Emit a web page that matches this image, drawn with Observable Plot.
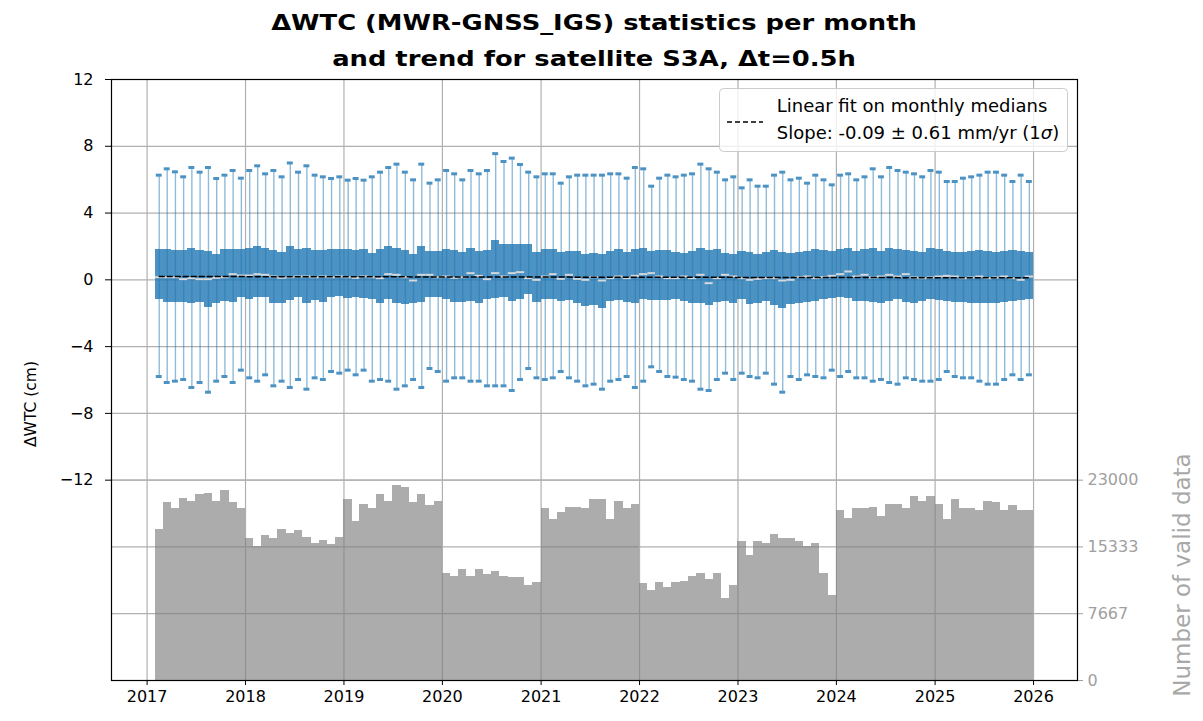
<!DOCTYPE html>
<html><head><meta charset="utf-8">
<script src="https://cdn.jsdelivr.net/npm/d3@7"></script>
<script src="https://cdn.jsdelivr.net/npm/@observablehq/plot@0.6"></script>
<style>
body{margin:0;background:#fff;font-family:"DejaVu Sans",sans-serif;}
#fig{position:relative;width:1203px;height:721px;overflow:hidden;background:#fff;}
#fig svg{position:absolute;left:0;}
</style></head><body><div id="fig"></div>
<script>
// ---- data ----
const firstMonth = "2017-02-01", endMonth = "2026-01-01";
const whiskerHi = [6.27,6.65,6.47,6.17,6.73,6.45,6.73,6.07,6.27,6.55,
 6.09,6.55,6.83,6.35,6.55,6.17,7.0,6.45,6.83,6.27,
 6.17,6.07,6.17,5.97,6.07,5.97,6.17,6.45,6.73,6.93,
 6.45,5.99,6.93,5.79,5.99,6.55,6.35,5.99,6.55,6.35,
 6.55,7.56,7.09,7.29,6.91,6.45,6.17,6.35,6.35,5.79,
 6.17,6.27,6.27,6.27,6.27,6.35,6.35,6.09,6.73,6.65,
 5.61,6.09,6.27,6.17,6.27,6.35,6.93,6.65,6.45,5.99,
 6.17,5.51,5.99,5.61,5.61,6.27,6.45,5.99,6.09,5.79,
 6.27,5.99,5.69,6.27,6.35,5.99,6.17,6.65,6.17,6.73,
 6.55,6.45,6.35,6.17,6.55,6.45,5.89,5.89,6.09,6.17,
 6.27,6.45,6.45,6.27,5.89,6.27,5.89];
const q3 = [1.80,1.80,1.74,1.74,1.90,1.74,1.70,1.54,1.80,1.80,
 1.80,1.90,2.00,1.90,1.74,1.66,2.00,1.80,1.90,1.74,
 1.74,1.80,1.80,1.80,1.74,1.80,1.60,1.80,2.00,1.90,
 1.74,1.54,2.00,1.70,1.70,1.80,1.74,1.66,1.90,1.70,
 1.74,2.36,2.10,2.10,2.10,2.10,1.66,1.80,1.80,1.66,
 1.70,1.70,1.54,1.60,1.54,1.70,1.80,1.66,1.80,1.90,
 1.70,1.74,1.74,1.64,1.60,1.70,1.90,1.74,1.80,1.60,
 1.54,1.70,1.66,1.54,1.66,1.74,1.66,1.60,1.66,1.70,
 1.80,1.74,1.70,1.80,1.90,1.70,1.80,1.90,1.70,1.86,
 1.80,1.74,1.70,1.66,1.86,1.80,1.70,1.66,1.66,1.70,
 1.74,1.70,1.66,1.70,1.74,1.70,1.66];
const medians = [0.16,0.16,0.16,0.04,0.10,0.04,0.04,0.12,0.16,0.34,
 0.26,0.26,0.34,0.30,0.20,0.12,0.16,0.20,0.20,0.16,
 0.20,0.16,0.20,0.16,0.12,0.20,0.16,0.10,0.34,0.30,
 0.16,-0.04,0.30,0.30,0.16,0.20,0.12,0.16,0.40,0.24,
 0.04,0.40,0.20,0.40,0.46,0.10,0.00,0.20,0.34,0.06,
 0.30,0.06,0.00,0.16,-0.04,0.10,0.20,0.10,0.24,0.34,
 0.40,0.20,0.10,0.10,0.20,0.10,0.30,-0.20,0.10,0.30,
 0.20,0.10,0.00,0.06,0.10,0.10,-0.04,0.00,0.16,0.20,
 0.10,0.16,0.24,0.34,0.50,0.20,0.30,0.14,0.20,0.30,
 0.20,0.34,0.14,0.10,0.14,0.20,0.24,0.20,0.10,0.14,
 0.20,0.10,0.14,0.20,0.10,0.00,0.20];
const q1 = [-1.20,-1.34,-1.34,-1.34,-1.44,-1.34,-1.64,-1.44,-1.30,-1.34,
 -1.06,-1.20,-1.06,-1.06,-1.44,-1.44,-1.24,-1.06,-1.44,-1.24,
 -1.34,-1.06,-1.00,-1.10,-1.06,-1.14,-1.20,-1.40,-1.20,-1.40,
 -1.50,-1.44,-1.34,-1.06,-1.06,-1.20,-1.34,-1.34,-1.30,-1.44,
 -1.20,-1.10,-1.08,-1.30,-1.20,-0.90,-1.34,-1.20,-1.20,-1.30,
 -1.24,-1.40,-1.60,-1.54,-1.70,-1.30,-1.24,-1.34,-1.44,-1.20,
 -1.24,-1.24,-1.24,-1.20,-1.30,-1.44,-1.40,-1.54,-1.34,-1.30,
 -1.44,-1.20,-1.50,-1.40,-1.30,-1.54,-1.70,-1.50,-1.44,-1.34,
 -1.30,-1.20,-1.10,-1.06,-1.10,-1.30,-1.30,-1.34,-1.40,-1.30,
 -1.20,-1.34,-1.44,-1.30,-1.20,-1.26,-1.30,-1.34,-1.34,-1.40,
 -1.44,-1.44,-1.40,-1.34,-1.30,-1.26,-1.20];
const whiskerLo = [-5.79,-6.15,-6.07,-5.97,-6.45,-6.15,-6.73,-6.07,-5.79,-6.15,
 -5.41,-5.87,-6.07,-5.69,-6.35,-6.07,-6.45,-5.97,-6.55,-5.87,
 -5.97,-5.49,-5.59,-5.41,-5.69,-5.41,-6.07,-5.97,-6.07,-6.55,
 -6.35,-5.97,-6.45,-5.31,-5.49,-6.07,-5.87,-5.87,-6.07,-6.07,
 -6.35,-6.35,-6.35,-6.63,-5.97,-5.31,-5.87,-5.97,-5.87,-5.49,
 -5.87,-6.07,-6.35,-6.25,-6.55,-6.07,-5.97,-5.79,-6.45,-6.07,
 -5.21,-5.49,-5.79,-5.83,-5.97,-6.07,-6.55,-6.63,-5.97,-5.59,
 -5.97,-5.59,-5.79,-5.87,-5.59,-6.25,-6.73,-5.79,-5.97,-5.69,
 -5.79,-5.87,-5.41,-5.79,-5.49,-5.87,-5.87,-6.07,-5.97,-6.15,
 -6.25,-5.87,-5.97,-6.07,-6.07,-5.97,-5.49,-5.79,-5.87,-5.87,
 -6.07,-6.25,-6.25,-5.97,-5.69,-5.97,-5.69];
const validCounts = [17370,20390,19700,20930,20590,21310,21470,20590,21820,20390,
 19700,16290,15380,16600,16290,17370,16830,17170,16450,15760,
 16100,15560,16450,20780,18250,20240,19700,21310,20590,22390,
 22200,20390,21310,20050,20590,12310,11960,12690,11960,12690,
 12150,12500,11960,11770,11770,10890,11240,19700,18440,19320,
 19860,19860,19700,20780,20780,18440,20590,19700,20240,11080,
 10350,11240,10700,11240,11420,11960,12310,11620,12310,9470,
 10890,15910,14300,15910,15720,16790,16250,16250,15910,15380,
 15720,12310,9810,19520,18600,19700,19700,19860,18780,20240,
 20240,19700,21130,20590,21130,20240,18440,20780,19700,19700,
 19520,20590,20390,19520,20050,19520,19520];
const fitDates = ["2017-02-15", "2025-12-16"];
const fitValues = [0.20, 0.12];
const leftTicks = [12, 8, 4, 0, -4, -8, -12];
const rightTicks = [0, 7667, 15333, 23000];
const yearTicks = [2017,2018,2019,2020,2021,2022,2023,2024,2025,2026];
const titleLines = ["\u0394WTC (MWR-GNSS_IGS) statistics per month", "and trend for satellite S3A, \u0394t=0.5h"];
const yLabelLeft = "\u0394WTC (cm)";
const yLabelRight = "Number of valid data";
const legendLine1 = "Linear fit on monthly medians";
const legendLine2 = "Slope: -0.09 \u00b1 0.61 mm/yr (1";

// ---- build tables ----
const monthStarts = d3.utcMonths(new Date(firstMonth + "T00:00Z"), new Date(endMonth + "T00:00Z"));
const data = monthStarts.map((s, i) => {
  const e = d3.utcMonth.offset(s, 1);
  return {start: s, end: e, mid: new Date((+s + +e) / 2),
    hi: whiskerHi[i], q3: q3[i], med: medians[i], q1: q1[i], lo: whiskerLo[i], n: validCounts[i]};
});
const fitData = fitDates.map((d, i) => ({date: new Date(d + "T00:00Z"), value: fitValues[i]}));
const years = yearTicks.map(y => new Date(Date.UTC(y, 0, 1)));
const xDomain = [new Date("2016-08-22T00:00Z"), new Date("2026-06-13T00:00Z")];

const W = 1203, H = 651;
const M = {marginTop: 9, marginBottom: 41, marginLeft: 111, marginRight: 126};
const fig = document.getElementById("fig");
const minus = d => d < 0 ? "\u2212" + Math.abs(d) : String(d);

const bottomPlot = Plot.plot({
  width: W, height: H, ...M,
  style: {background: "white", fontFamily: "DejaVu Sans", fontSize: "16px", color: "black", overflow: "visible"},
  x: {type: "utc", domain: xDomain, axis: null},
  y: {domain: [0, 69000], axis: null},
  marks: [
    Plot.ruleX(years, {stroke: "#b0b0b0", strokeWidth: 1.2}),
    Plot.ruleY(rightTicks, {stroke: "#b0b0b0", strokeWidth: 1.2}),
    Plot.rect(data, {x1: "start", x2: "end", y1: d => 0, y2: "n", fill: "#808080", fillOpacity: 0.65, shapeRendering: "crispEdges"}),
    Plot.axisX({ticks: years, tickFormat: d => String(d.getUTCFullYear()), tickSize: 5, tickPadding: 5, label: null}),
    Plot.axisY({anchor: "right", ticks: rightTicks, tickFormat: d => String(d), color: "#a0a0a0", tickSize: 5, tickPadding: 5, label: null})
  ]
});

const topPlot = Plot.plot({
  width: W, height: H, ...M,
  style: {background: "transparent", fontFamily: "DejaVu Sans", fontSize: "16px", color: "black", overflow: "visible"},
  x: {type: "utc", domain: xDomain, axis: null},
  y: {domain: [-24, 12], axis: null},
  marks: [
    Plot.ruleY(leftTicks, {stroke: "#b0b0b0", strokeWidth: 1.2}),
    Plot.ruleX(data, {x: "mid", y1: "lo", y2: "hi", stroke: "#1f77b4", strokeOpacity: 0.5, strokeWidth: 1.4}),
    Plot.rect(data, {x1: "start", x2: "end", y1: "q1", y2: "q3", fill: "#1f77b4", fillOpacity: 0.8, shapeRendering: "crispEdges"}),
    Plot.ruleY(data, {y: "hi", x1: d => d3.utcDay.offset(d.mid, -11), x2: d => d3.utcDay.offset(d.mid, 11), stroke: "#4c92c3", strokeWidth: 3}),
    Plot.ruleY(data, {y: "lo", x1: d => d3.utcDay.offset(d.mid, -11), x2: d => d3.utcDay.offset(d.mid, 11), stroke: "#4c92c3", strokeWidth: 3}),
    Plot.ruleY(data, {y: "med", x1: "start", x2: "end", stroke: "#d4d8dc", strokeWidth: 2}),
    Plot.line(fitData, {x: "date", y: "value", stroke: "black", strokeWidth: 1.5, strokeDasharray: "5,3"}),
    Plot.axisY({ticks: leftTicks, tickSize: 6, text: null, label: null}),
    Plot.text(leftTicks, {y: d => d, text: minus, frameAnchor: "left", textAnchor: "end", dx: -18, fill: "black"}),
    Plot.frame({stroke: "black", strokeWidth: 1.2})
  ]
});

bottomPlot.style.position = "absolute"; bottomPlot.style.top = "70px";
topPlot.style.position = "absolute"; topPlot.style.top = "70px";
fig.appendChild(bottomPlot);
fig.appendChild(topPlot);

// ---- annotation layer: title, axis labels, legend ----
const ann = d3.select(fig).append("svg")
  .attr("width", 1203).attr("height", 721).style("top", "0px")
  .style("font-family", "DejaVu Sans");

titleLines.forEach((t, i) => {
  ann.append("text").attr("transform", `translate(594,${30 + 36 * i}) scale(1.2,1)`)
    .attr("text-anchor", "middle").attr("font-weight", "bold").attr("font-size", 21.5)
    .attr("fill", "black").text(t);
});
ann.append("text").attr("transform", "translate(36,404) rotate(-90)")
  .attr("text-anchor", "middle").attr("font-size", 15.5).attr("fill", "black").text(yLabelLeft);
ann.append("text").attr("transform", "translate(1190,575) rotate(-90)")
  .attr("text-anchor", "middle").attr("font-size", 23).attr("fill", "#a8a8a8").text(yLabelRight);

const lg = ann.append("g");
lg.append("rect").attr("x", 719.5).attr("y", 88.5).attr("width", 348).attr("height", 63).attr("rx", 4)
  .attr("fill", "white").attr("fill-opacity", 0.8).attr("stroke", "#cccccc");
lg.append("line").attr("x1", 727).attr("x2", 763).attr("y1", 122).attr("y2", 122)
  .attr("stroke", "black").attr("stroke-width", 1.5).attr("stroke-dasharray", "5,3");
lg.append("text").attr("x", 912).attr("y", 112).attr("text-anchor", "middle").attr("font-size", 18).text(legendLine1);
const l2 = lg.append("text").attr("x", 918).attr("y", 139).attr("text-anchor", "middle").attr("font-size", 18);
l2.append("tspan").text(legendLine2);
l2.append("tspan").attr("font-style", "italic").text("\u03c3");
l2.append("tspan").text(")");
</script></body></html>
